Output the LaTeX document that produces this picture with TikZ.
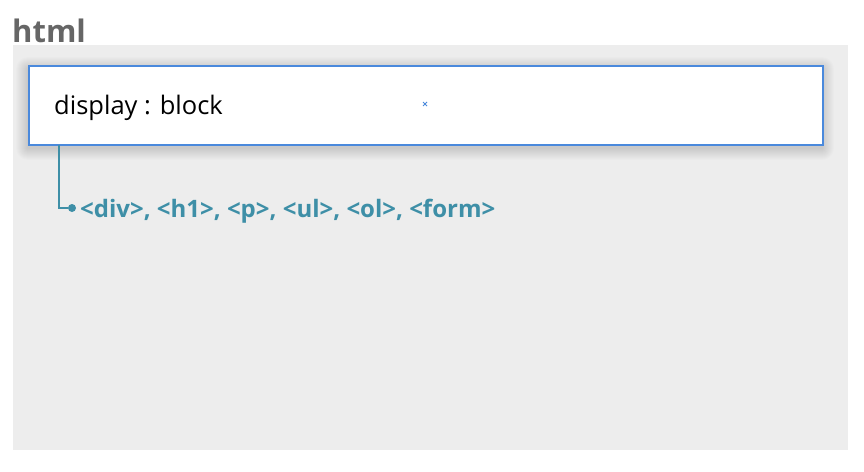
\documentclass[tikz,border=0pt]{standalone}
\usepackage{fontspec}
\setmainfont{Open Sans}

\definecolor{panelgray}{HTML}{EDEDED}
\definecolor{titlegray}{HTML}{666666}
\definecolor{boxblue}{HTML}{4A89DC}
\definecolor{tagteal}{HTML}{3E8FA7}

\tikzset{
  propbox/.style={rectangle, draw=boxblue, line width=2.4pt, fill=white, anchor=north west,
    minimum width=794pt, minimum height=79pt, inner sep=0pt},
  proptext/.style={anchor=base west, inner sep=0pt, font=\fontsize{25.5}{30}\selectfont},
  tagtext/.style={anchor=base west, inner sep=0pt, text=tagteal, font=\bfseries\fontsize{24}{28}\selectfont},
  tagdot/.style={circle, fill=tagteal, inner sep=0pt, minimum size=8pt}
}

\begin{document}
\begin{tikzpicture}[x=1pt, y=-1pt]
\useasboundingbox (0,0) rectangle (864,471);
\fill[panelgray] (13,45) rectangle (848,450);

% soft shadow under the box
\foreach \i in {1,...,12}
  \fill[black, opacity=0.011, rounded corners=\i pt] (28-\i,69-\i) rectangle (822+\i,148+\i);

\draw
(12,42) node[anchor=base west, inner sep=0pt, text=titlegray, font=\bfseries\fontsize{31}{36}\selectfont](title){html}
(28,65) node[propbox](box){}
(54,114) node[proptext](prop){display : block}
(72,208) node[tagdot](dot){}
(80,217) node[tagtext](tags){<div>, <h1>, <p>, <ul>, <ol>, <form>};

\coordinate (start) at (59,145);
\draw[tagteal, line width=2pt] (start) |- (dot);

\draw[boxblue, line width=0.8pt] (423,102) -- (427,106) (423,106) -- (427,102);

\end{tikzpicture}
\end{document}
